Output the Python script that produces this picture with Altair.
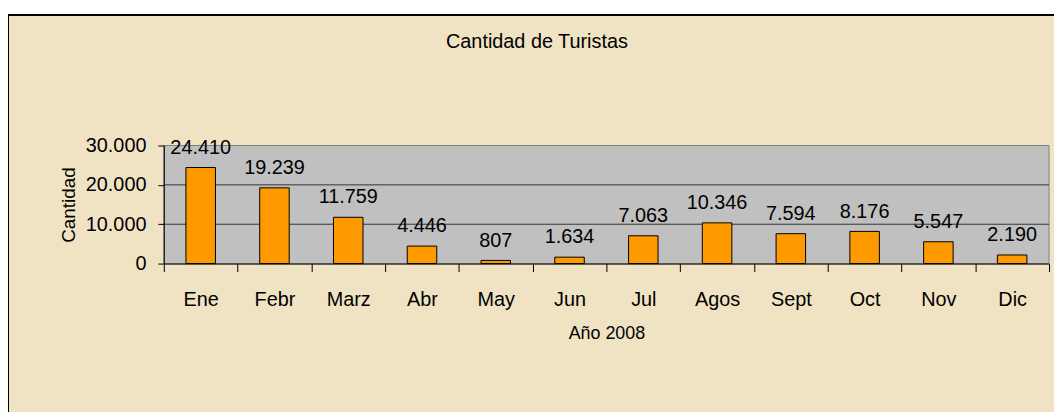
import altair as alt
import pandas as pd

# ---- data ----
meses = ["Ene", "Febr", "Marz", "Abr", "May", "Jun", "Jul", "Agos", "Sept", "Oct", "Nov", "Dic"]
turistas = [24410, 19239, 11759, 4446, 807, 1634, 7063, 10346, 7594, 8176, 5547, 2190]
y_ticks = [0, 10000, 20000, 30000]
grid_values = [10000, 20000]

df = pd.DataFrame({"mes": meses, "turistas": turistas})
grid_df = pd.DataFrame({"turistas": grid_values})
one = pd.DataFrame({"k": [0]})

W, H = 892, 119
FONT = "Liberation Sans"
BG = "#F0E3C4"

fmt = "replace(format(datum.turistas, ','), ',', '.')"

x_enc = alt.X(
    "mes:N", sort=meses,
    scale=alt.Scale(paddingInner=0, paddingOuter=0),
    axis=alt.Axis(
        title="Año 2008", labelAngle=0, tickBand="extent", tickSize=8, labelPadding=18,
        labelFontSize=20, labelFont=FONT, labelColor="black",
        titleFont=FONT, titleFontSize=18, titleFontWeight="normal", titleColor="black",
        titleX=W / 2, titleY=75, titleBaseline="alphabetic",
        domainColor="black", tickColor="black", grid=False, zindex=1,
    ),
)
y_enc = alt.Y(
    "turistas:Q",
    scale=alt.Scale(domain=[0, 30000], nice=False),
    axis=alt.Axis(
        values=y_ticks, labelExpr="replace(format(datum.value, ','), ',', '.')",
        tickSize=6, labelPadding=12, labelFontSize=20, labelFont=FONT, labelColor="black",
        labelBaseline="middle",
        title="Cantidad", titleFont=FONT, titleFontSize=19, titleFontWeight="normal",
        titleColor="black", titleX=-90, titleY=H / 2, titleAngle=-90, titleBaseline="alphabetic",
        domainColor="black", tickColor="black", grid=False, zindex=1,
    ),
)

bg = alt.Chart(one).mark_rect(fill=BG, stroke="black", strokeWidth=2).encode(
    x=alt.value(-157), x2=alt.value(W + 40), y=alt.value(-131.5), y2=alt.value(H + 200)
)
plot_bg = alt.Chart(one).mark_rect(fill="#C0C0C0", stroke="#808080", strokeWidth=1).encode(
    x=alt.value(0), x2=alt.value(W), y=alt.value(0), y2=alt.value(H)
)
grid = alt.Chart(grid_df).mark_rule(color="#333333", strokeWidth=1).encode(y=y_enc)
bars = alt.Chart(df).mark_bar(
    color="#FF9900", stroke="black", strokeWidth=1, width=alt.RelativeBandSize(0.4)
).encode(x=x_enc, y=y_enc)
labels = alt.Chart(df).transform_calculate(lbl=fmt).mark_text(
    baseline="alphabetic", dy=-14, fontSize=20, font=FONT, color="black"
).encode(x=x_enc, y=y_enc, text="lbl:N")
title = alt.Chart(one).mark_text(
    text="Cantidad de Turistas", fontSize=20, font=FONT, color="black",
    baseline="alphabetic", align="center"
).encode(x=alt.value(376), y=alt.value(-98.3))

chart = alt.layer(bg, plot_bg, grid, bars, labels, title).properties(
    width=W, height=H,
    padding={"left": 157, "top": 137, "right": 5, "bottom": 148},
    autosize=alt.AutoSizeParams(type="none"),
).configure_view(strokeWidth=0).configure(background="white")

chart.save("out.html", embed_options={"renderer": "svg", "actions": False})
